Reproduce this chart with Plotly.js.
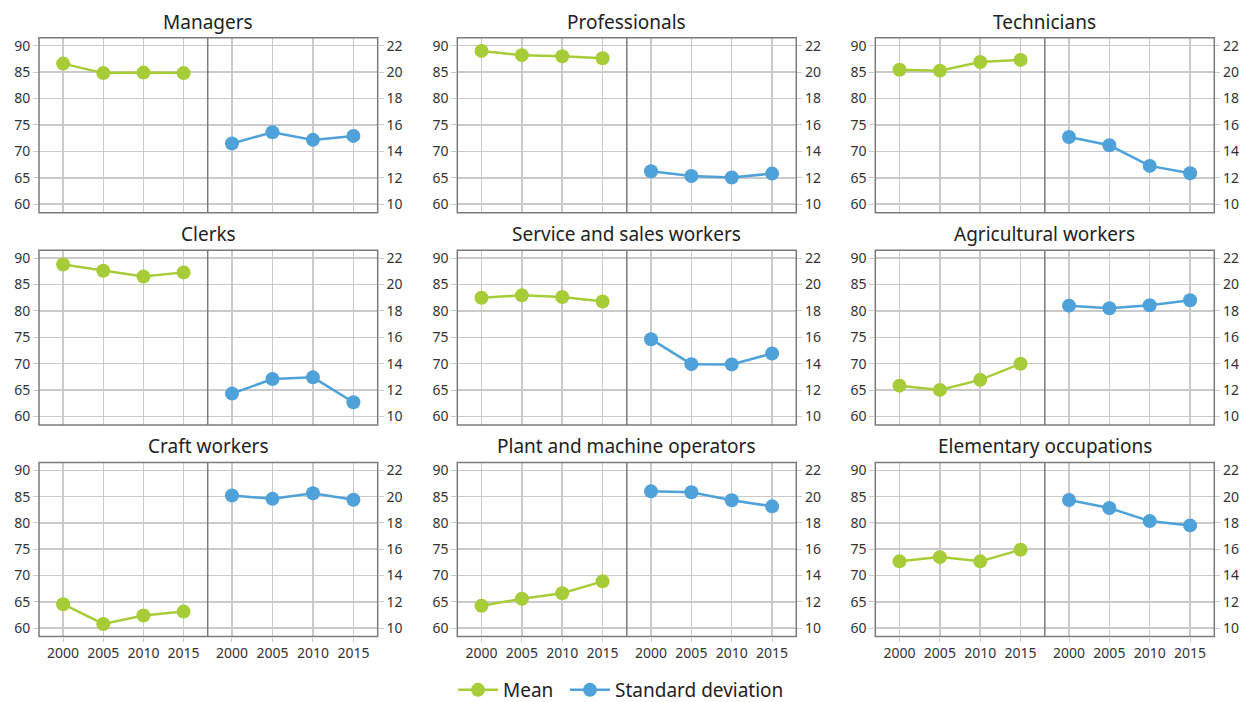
<!DOCTYPE html>
<html>
<head>
<meta charset="utf-8">
<script src="https://cdn.plot.ly/plotly-3.0.1.min.js"></script>
<style>html,body{margin:0;padding:0;background:#fff;}#chart{width:1248px;height:702px;}</style>
</head>
<body>
<div id="chart"></div>
<script>
// ---- data ----
const categories = ["Managers", "Professionals", "Technicians", "Clerks", "Service and sales workers",
  "Agricultural workers", "Craft workers", "Plant and machine operators", "Elementary occupations"];
const years = [2000, 2005, 2010, 2015];
const meanTickLabels = [60, 65, 70, 75, 80, 85, 90];
const sdTickLabels = [10, 12, 14, 16, 18, 20, 22];

const meanManagers      = [86.6, 84.8, 84.9, 84.8];
const sdManagers        = [14.6, 15.45, 14.87, 15.17];
const meanProfessionals = [89.0, 88.2, 88.0, 87.6];
const sdProfessionals   = [12.5, 12.14, 12.02, 12.32];
const meanTechnicians   = [85.45, 85.27, 86.9, 87.3];
const sdTechnicians     = [15.09, 14.46, 12.9, 12.34];
const meanClerks        = [88.8, 87.6, 86.5, 87.3];
const sdClerks          = [11.74, 12.84, 12.97, 11.08];
const meanService       = [82.5, 82.95, 82.65, 81.8];
const sdService         = [15.86, 13.97, 13.95, 14.78];
const meanAgricultural  = [65.85, 65.05, 66.95, 70.0];
const sdAgricultural    = [18.4, 18.2, 18.43, 18.81];
const meanCraft         = [64.55, 60.8, 62.4, 63.15];
const sdCraft           = [20.08, 19.83, 20.26, 19.76];
const meanPlant         = [64.25, 65.6, 66.65, 68.9];
const sdPlant           = [20.4, 20.33, 19.72, 19.26];
const meanElementary    = [72.7, 73.5, 72.7, 74.9];
const sdElementary      = [19.74, 19.13, 18.14, 17.81];

const meanSeries = [meanManagers, meanProfessionals, meanTechnicians, meanClerks, meanService,
  meanAgricultural, meanCraft, meanPlant, meanElementary];
const sdSeries = [sdManagers, sdProfessionals, sdTechnicians, sdClerks, sdService,
  sdAgricultural, sdCraft, sdPlant, sdElementary];

// ---- styling / layout ----
const W = 1248, H = 702;
const green = "#a6cc38", blue = "#4fa1da";
const gridColor = "#cacaca", frameColor = "#7b7b7b", textColor = "#333333";
const FONT = "Noto Sans, sans-serif";
const colX = [[39, 207.7, 377.7], [457.3, 626.8, 796.3], [875.3, 1044.8, 1214.3]];
const rowY = [[37.7, 212.7], [250.2, 425.0], [462.4, 636.6]];
const meanRange = [58.4, 91.5];
const sdRange = [10 + (meanRange[0] - 60) / 2.5, 10 + (meanRange[1] - 60) / 2.5];
const xRange = [1997, 2018];

const legendCommon = {orientation: "h", xref: "container", yref: "container", xanchor: "left",
  y: 1 - 690 / H, yanchor: "middle", font: {size: 19, color: "#222"}, itemwidth: 40, tracegroupgap: 0};

const traces = [];
const layout = {
  width: W, height: H,
  margin: {l: 0, r: 0, t: 0, b: 0, autoexpand: false},
  paper_bgcolor: "#fff", plot_bgcolor: "rgba(0,0,0,0)",
  font: {family: FONT, color: textColor, size: 14},
  showlegend: true,
  legend: Object.assign({}, legendCommon, {x: 453 / W}),
  legend2: Object.assign({}, legendCommon, {x: 565 / W}),
  shapes: [], annotations: []
};

categories.forEach((name, p) => {
  const col = p % 3, row = Math.floor(p / 3);
  const [x0, xm, x1] = colX[col];
  const [yt, yb] = rowY[row];
  const iL = 2 * p + 1, iR = 2 * p + 2;
  const yDom = [1 - yb / H, 1 - yt / H];
  const bottomRow = row === 2;
  const xCommon = {
    range: xRange, tickvals: years, showgrid: true, gridcolor: gridColor, gridwidth: 1.5,
    zeroline: false, showline: false, fixedrange: true,
    showticklabels: bottomRow, ticks: bottomRow ? "outside" : "", ticklen: 4, tickcolor: gridColor,
    tickfont: {size: 14, color: textColor}
  };
  layout["xaxis" + iL] = Object.assign({}, xCommon, {domain: [x0 / W, xm / W], anchor: "y" + iL});
  layout["xaxis" + iR] = Object.assign({}, xCommon, {domain: [xm / W, x1 / W], anchor: "y" + iR});
  layout["yaxis" + iL] = {
    domain: yDom, anchor: "x" + iL, side: "left", range: meanRange, tickvals: meanTickLabels,
    showgrid: true, gridcolor: gridColor, gridwidth: 1.5, zeroline: false, showline: false,
    ticks: "outside", ticklen: 5, tickcolor: gridColor, fixedrange: true,
    tickfont: {size: 14, color: textColor}
  };
  layout["yaxis" + iR] = {
    domain: yDom, anchor: "x" + iR, side: "right", range: sdRange, tickvals: sdTickLabels,
    showgrid: true, gridcolor: gridColor, gridwidth: 1.5, zeroline: false, showline: false,
    ticks: "outside", ticklen: 5, tickcolor: gridColor, fixedrange: true,
    tickfont: {size: 14, color: textColor}
  };
  traces.push({
    type: "scatter", mode: "lines+markers", name: "Mean", legendgroup: "mean", showlegend: p === 0,
    legend: "legend",
    x: years, y: meanSeries[p], xaxis: "x" + iL, yaxis: "y" + iL,
    line: {color: green, width: 2.5}, marker: {color: green, size: 14}, cliponaxis: false
  });
  traces.push({
    type: "scatter", mode: "lines+markers", name: "Standard deviation", legendgroup: "sd", showlegend: p === 0,
    legend: "legend2",
    x: years, y: sdSeries[p], xaxis: "x" + iR, yaxis: "y" + iR,
    line: {color: blue, width: 2.5}, marker: {color: blue, size: 14}, cliponaxis: false
  });
  layout.shapes.push({type: "rect", xref: "paper", yref: "paper", x0: x0 / W, x1: x1 / W,
    y0: yDom[0], y1: yDom[1], line: {color: frameColor, width: 1.5}, layer: "above"});
  layout.shapes.push({type: "line", xref: "paper", yref: "paper", x0: xm / W, x1: xm / W,
    y0: yDom[0], y1: yDom[1], line: {color: frameColor, width: 1.5}, layer: "above"});
  layout.annotations.push({text: name, xref: "paper", yref: "paper", x: (x0 + x1) / 2 / W,
    y: 1 - (yt - 16) / H, xanchor: "center", yanchor: "middle", showarrow: false,
    font: {size: 19, color: "#222", family: FONT}});
});

Plotly.newPlot("chart", traces, layout, {displayModeBar: false, staticPlot: true});
</script>
</body>
</html>
